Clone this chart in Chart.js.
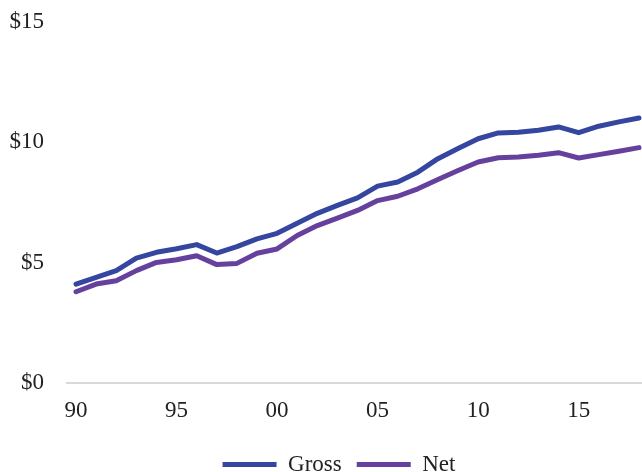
<!DOCTYPE html>
<html>
<head>
<meta charset="utf-8">
<script src="https://cdn.jsdelivr.net/npm/chart.js@4/dist/chart.umd.min.js"></script>
<style>
  html, body { margin: 0; padding: 0; background: #ffffff; }
  #wrap { width: 642px; height: 472px; position: relative; }
</style>
</head>
<body>
<div id="wrap"><canvas id="chart"></canvas></div>
<script>
// Per-capita amounts by year, gross and net (dollars)
const years = [1990, 1991, 1992, 1993, 1994, 1995, 1996, 1997, 1998, 1999,
               2000, 2001, 2002, 2003, 2004, 2005, 2006, 2007, 2008, 2009,
               2010, 2011, 2012, 2013, 2014, 2015, 2016, 2017, 2018];
const gross = [4.11, 4.39, 4.67, 5.19, 5.43, 5.58, 5.75, 5.40, 5.67, 5.99,
               6.22, 6.64, 7.05, 7.38, 7.69, 8.18, 8.35, 8.76, 9.32, 9.74,
               10.15, 10.39, 10.42, 10.50, 10.64, 10.40, 10.67, 10.85, 11.01];
const net   = [3.79, 4.11, 4.25, 4.67, 5.01, 5.12, 5.29, 4.92, 4.97, 5.39,
               5.57, 6.13, 6.54, 6.85, 7.17, 7.58, 7.76, 8.07, 8.46, 8.83,
               9.18, 9.36, 9.39, 9.46, 9.57, 9.35, 9.49, 9.63, 9.78];
const xTickYears = [1990, 1995, 2000, 2005, 2010, 2015];
const yTickValues = [0, 5, 10, 15];
const seriesNames = ['Gross', 'Net'];

const toPoints = vals => years.map((yr, i) => ({ x: yr, y: vals[i] }));

const textFont = { family: "'Liberation Serif', 'Times New Roman', serif", size: 23 };
const textColor = '#222222';

// Nudge the legend row to the right of the canvas centre line
const legendShift = {
  id: 'legendShift',
  afterLayout(chart) {
    const lg = chart.legend;
    if (lg) { lg.left += 18; lg.right += 18; }
  }
};

new Chart(document.getElementById('chart'), {
  type: 'line',
  data: {
    datasets: [
      {
        label: seriesNames[0],
        data: toPoints(gross),
        borderColor: '#34469f',
        backgroundColor: '#34469f',
        borderWidth: 5,
        borderCapStyle: 'round',
        borderJoinStyle: 'round',
        pointRadius: 0,
        tension: 0,
        clip: false
      },
      {
        label: seriesNames[1],
        data: toPoints(net),
        borderColor: '#65409c',
        backgroundColor: '#65409c',
        borderWidth: 5,
        borderCapStyle: 'round',
        borderJoinStyle: 'round',
        pointRadius: 0,
        tension: 0,
        clip: false
      }
    ]
  },
  plugins: [legendShift],
  options: {
    responsive: true,
    maintainAspectRatio: false,
    animation: false,
    layout: { autoPadding: false, padding: { top: 22, right: 0, left: 0, bottom: -14 } },
    plugins: {
      tooltip: { enabled: false },
      legend: {
        position: 'bottom',
        labels: {
          font: textFont,
          color: textColor,
          usePointStyle: true,
          pointStyle: 'line',
          pointStyleWidth: 54,
          padding: 15
        }
      }
    },
    scales: {
      x: {
        type: 'linear',
        min: 1989.5,
        max: 2018.15,
        afterBuildTicks: axis => { axis.ticks = xTickYears.map(v => ({ value: v })); },
        afterFit: axis => { axis.height = 55; axis.paddingLeft = 0; axis.paddingRight = 0; },
        ticks: {
          font: textFont,
          color: textColor,
          padding: 14,
          maxRotation: 0,
          autoSkip: false,
          callback: v => String(v).slice(2)
        },
        grid: { display: false, drawTicks: false },
        border: { display: false }
      },
      y: {
        min: 0,
        max: 15,
        afterBuildTicks: axis => { axis.ticks = yTickValues.map(v => ({ value: v })); },
        afterFit: axis => { axis.width = 66; axis.paddingTop = 0; axis.paddingBottom = 0; },
        ticks: {
          font: textFont,
          color: textColor,
          padding: 22,
          callback: v => '$' + v
        },
        grid: {
          drawTicks: false,
          lineWidth: 2,
          color: ctx => (ctx.tick && ctx.tick.value === 0) ? '#d9d9d9' : 'rgba(0,0,0,0)'
        },
        border: { display: false }
      }
    }
  }
});
</script>
</body>
</html>
